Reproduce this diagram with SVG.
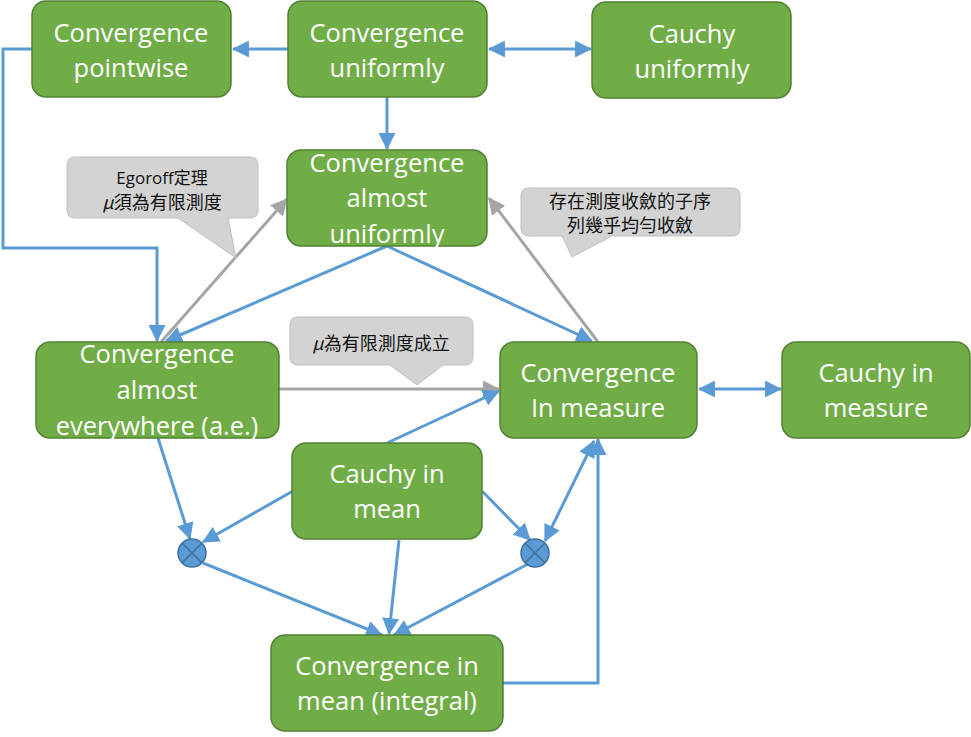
<svg xmlns="http://www.w3.org/2000/svg" width="971" height="737" viewBox="0 0 971 737">
<defs>
<style>
.node rect{fill:#70AD47;stroke:#538135;stroke-width:1.5}
.node text{font-family:"Open Sans","Liberation Sans",sans-serif;font-size:25.5px;fill:#fff;text-anchor:middle}
.blue{stroke:#5B9BD5;stroke-width:3;fill:none}
.gray{stroke:#A5A5A5;stroke-width:3;fill:none}
.call path{fill:#D3D3D3;stroke:#BFBFBF;stroke-width:1}
.call text{font-family:"Noto Sans CJK TC","Noto Sans CJK SC",sans-serif;font-size:18px;fill:#111;text-anchor:middle}
.xc circle{fill:#5B9BD5;stroke:#41719C;stroke-width:1.5}
.xc path{stroke:#41719C;stroke-width:1.5;fill:none}
</style>
<marker id="ab" markerUnits="userSpaceOnUse" markerWidth="17" markerHeight="17" viewBox="0 0 16 16" refX="15" refY="8" orient="auto-start-reverse"><path d="M0,0 L16,8 L0,16 Z" fill="#5B9BD5"/></marker>
<marker id="ag" markerUnits="userSpaceOnUse" markerWidth="17" markerHeight="17" viewBox="0 0 16 16" refX="15" refY="8" orient="auto"><path d="M0,0 L16,8 L0,16 Z" fill="#A5A5A5"/></marker>
</defs>
<rect width="971" height="737" fill="#fff"/>

<g id="connectors">
<line class="blue" x1="288" y1="49" x2="233" y2="49" marker-end="url(#ab)"/>
<line class="blue" x1="489" y1="49" x2="591" y2="49" marker-start="url(#ab)" marker-end="url(#ab)"/>
<line class="blue" x1="387" y1="97" x2="387" y2="149" marker-end="url(#ab)"/>
<polyline class="blue" points="32,49 3,49 3,248 157,248 157,341" marker-end="url(#ab)"/>
<line class="blue" x1="387" y1="246" x2="166" y2="341" marker-end="url(#ab)"/>
<line class="blue" x1="387" y1="246" x2="592" y2="341" marker-end="url(#ab)"/>
<line class="gray" x1="161" y1="342" x2="287" y2="199" marker-end="url(#ag)"/>
<line class="gray" x1="598" y1="342" x2="489" y2="198" marker-end="url(#ag)"/>
<line class="gray" x1="279" y1="389" x2="499" y2="389" marker-end="url(#ag)"/>
<line class="blue" x1="387" y1="443" x2="499" y2="391" marker-end="url(#ab)"/>
<line class="blue" x1="699" y1="389" x2="781" y2="389" marker-start="url(#ab)" marker-end="url(#ab)"/>
<line class="blue" x1="158" y1="438" x2="190" y2="539" marker-end="url(#ab)"/>
<line class="blue" x1="293" y1="491" x2="203" y2="542" marker-end="url(#ab)"/>
<line class="blue" x1="482" y1="491" x2="530" y2="540" marker-end="url(#ab)"/>
<line class="blue" x1="545" y1="541" x2="594" y2="441" marker-start="url(#ab)" marker-end="url(#ab)"/>
<polyline class="blue" points="503,683 598,683 598,439" marker-end="url(#ab)"/>
<line class="blue" x1="203" y1="563" x2="382" y2="635" marker-end="url(#ab)"/>
<line class="blue" x1="399" y1="540" x2="389" y2="634" marker-end="url(#ab)"/>
<line class="blue" x1="528" y1="564" x2="394" y2="635" marker-end="url(#ab)"/>
</g>

<g id="node-pointwise" class="node"><rect x="32" y="1" width="199" height="96" rx="14"/><text x="131" y="42">Convergence</text><text x="131" y="77">pointwise</text></g>
<g id="node-uniformly" class="node"><rect x="288" y="1" width="199" height="96" rx="14"/><text x="387" y="42">Convergence</text><text x="387" y="77">uniformly</text></g>
<g id="node-cauchy-uniformly" class="node"><rect x="592" y="2" width="199" height="96" rx="14"/><text x="692" y="43">Cauchy</text><text x="692" y="78">uniformly</text></g>
<g id="node-almost-uniformly" class="node"><rect x="287" y="150" width="200" height="96" rx="14"/><text x="387" y="172">Convergence</text><text x="387" y="207">almost</text><text x="387" y="243">uniformly</text></g>
<g id="node-ae" class="node"><rect x="36" y="342" width="243" height="96" rx="14"/><text x="157" y="363">Convergence</text><text x="157" y="399">almost</text><text x="157" y="435">everywhere (a.e.)</text></g>
<g id="node-in-measure" class="node"><rect x="500" y="342" width="197" height="96" rx="14"/><text x="598" y="382">Convergence</text><text x="598" y="417">In measure</text></g>
<g id="node-cauchy-measure" class="node"><rect x="782" y="342" width="188" height="96" rx="14"/><text x="876" y="382">Cauchy in</text><text x="876" y="417">measure</text></g>
<g id="node-cauchy-mean" class="node"><rect x="292" y="443" width="190" height="96" rx="14"/><text x="387" y="483">Cauchy in</text><text x="387" y="518">mean</text></g>
<g id="node-mean" class="node"><rect x="271" y="635" width="232" height="96" rx="14"/><text x="387" y="675">Convergence in</text><text x="387" y="710">mean (integral)</text></g>

<g id="node-and-left" class="xc"><circle cx="192" cy="553" r="14"/><path d="M182.1,543.1 L201.9,562.9 M201.9,543.1 L182.1,562.9"/></g>
<g id="node-and-right" class="xc"><circle cx="535" cy="553" r="14"/><path d="M525.1,543.1 L544.9,562.9 M544.9,543.1 L525.1,562.9"/></g>

<g id="callout-egoroff" class="call"><path d="M75,157 H250 Q258,157 258,165 V210 Q258,218 250,218 H228 L236,258 L178,218 H75 Q67,218 67,210 V165 Q67,157 75,157 Z"/><text x="162" y="184" style="font-family:'Open Sans','Noto Sans CJK TC',sans-serif;font-size:17px">Egoroff定理</text><text x="162" y="209"><tspan font-style="italic">μ</tspan>須為有限測度</text></g>
<g id="callout-subseq" class="call"><path d="M529,188 H732 Q740,188 740,196 V228 Q740,236 732,236 H612 L572,257 L562,236 H529 Q521,236 521,228 V196 Q521,188 529,188 Z"/><text x="630" y="208">存在測度收斂的子序</text><text x="630" y="232">列幾乎均勻收斂</text></g>
<g id="callout-finite" class="call"><path d="M298,317 H465 Q473,317 473,325 V357 Q473,365 465,365 H443 L417,385 L390,365 H298 Q290,365 290,357 V325 Q290,317 298,317 Z"/><text x="381" y="350"><tspan font-style="italic">μ</tspan>為有限測度成立</text></g>
</svg>
